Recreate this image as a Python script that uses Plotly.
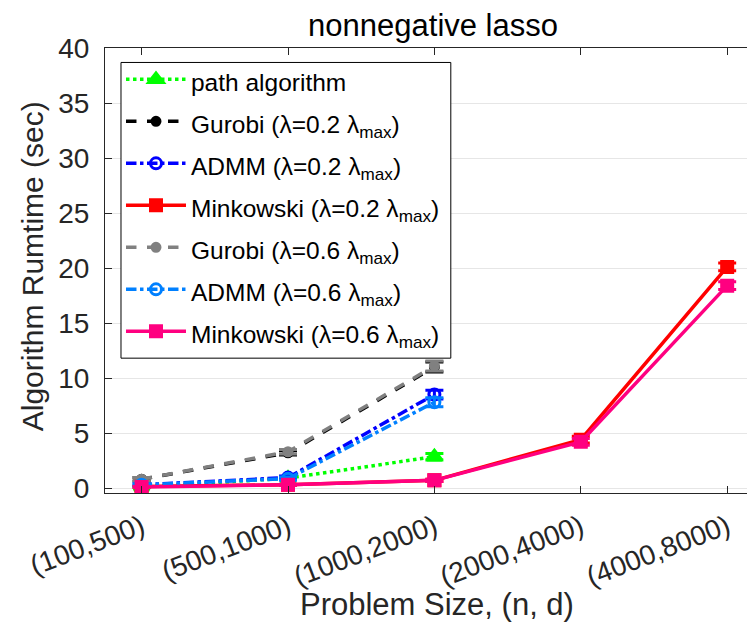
import plotly.graph_objects as go

categories = ["(100,500)", "(500,1000)", "(1000,2000)", "(2000,4000)", "(4000,8000)"]
x_pos = [1, 2, 3, 4, 5]

path_alg = [0.1, 0.9, 2.85]
path_err = [0.05, 0.1, 0.3]
gurobi_02 = [0.8, 3.2, 11.0]
gurobi_02_err = [0.15, 0.2, 0.45]
admm_02 = [0.3, 0.95, 8.5]
admm_02_err = [0.1, 0.15, 0.4]
mink_02 = [0.15, 0.3, 0.7, 4.4, 20.1]
mink_02_err = [0.05, 0.05, 0.1, 0.3, 0.35]
gurobi_06 = [0.8, 3.3, 11.1]
gurobi_06_err = [0.15, 0.2, 0.45]
admm_06 = [0.3, 0.85, 7.8]
admm_06_err = [0.1, 0.15, 0.4]
mink_06 = [0.1, 0.3, 0.7, 4.2, 18.4]
mink_06_err = [0.05, 0.05, 0.1, 0.3, 0.35]

LAM = "\u03bb"
def wrap(t):
    return f"<span style='font-size:24.5px'>{t}</span>"
def lbl(name, v):
    return wrap(f"{name} ({LAM}=0.{v} {LAM}<sub>max</sub>)")

series = [
    dict(name=wrap("path algorithm"), y=path_alg, err=path_err, color="#00FF00", dash="dot",
         symbol="triangle-up", msize=13),
    dict(name=lbl("Gurobi", 2), y=gurobi_02, err=gurobi_02_err, color="#000000", dash="dash",
         symbol="circle", msize=8),
    dict(name=lbl("ADMM", 2), y=admm_02, err=admm_02_err, color="#0000FF", dash="dashdot",
         symbol="circle-open", msize=11),
    dict(name=lbl("Minkowski", 2), y=mink_02, err=mink_02_err, color="#FF0000", dash="solid",
         symbol="square", msize=11),
    dict(name=lbl("Gurobi", 6), y=gurobi_06, err=gurobi_06_err, color="#808080", dash="dash",
         symbol="circle", msize=8),
    dict(name=lbl("ADMM", 6), y=admm_06, err=admm_06_err, color="#0080FF", dash="dashdot",
         symbol="circle-open", msize=11),
    dict(name=lbl("Minkowski", 6), y=mink_06, err=mink_06_err, color="#FF0080", dash="solid",
         symbol="square", msize=11),
]

fig = go.Figure()
for s in series:
    n = len(s["y"])
    fig.add_trace(go.Scatter(
        x=x_pos[:n], y=s["y"], name=s["name"], mode="lines+markers",
        line=dict(color=s["color"], width=3.5, dash=s["dash"]),
        marker=dict(symbol=s["symbol"], size=s["msize"], color=s["color"],
                    line=dict(color=s["color"], width=3)),
        error_y=dict(type="data", array=s["err"], visible=True, color=s["color"],
                     thickness=3, width=9),
    ))

font_family = "Liberation Sans, Arial, sans-serif"
fig.update_layout(
    width=747, height=628,
    margin=dict(l=97, r=0, t=39.5, b=143, autoexpand=False),
    paper_bgcolor="white", plot_bgcolor="white",
    font=dict(family=font_family, color="#262626", size=28),
    title=dict(text="nonnegative lasso", x=0.569, xanchor="center", y=0.973, yanchor="middle",
               font=dict(size=31, color="#000000")),
    xaxis=dict(range=[0.75, 5.19], tickvals=x_pos, ticktext=categories, tickangle=-21,
               automargin=False, ticklabelstandoff=6,
               showgrid=False, zeroline=False, showline=True, linecolor="#262626", linewidth=1,
               mirror="ticks", ticks="inside", ticklen=7, tickcolor="#262626",
               tickfont=dict(size=28)),
    yaxis=dict(range=[-0.45, 40], tickvals=[0, 5, 10, 15, 20, 25, 30, 35, 40],
               automargin=False, ticklabelstandoff=9,
               showgrid=True, gridcolor="#e6e6e6", gridwidth=1.2, zeroline=False,
               showline=True, linecolor="#262626", linewidth=1, mirror=False,
               ticks="inside", ticklen=7, tickcolor="#262626", tickfont=dict(size=28)),
    legend=dict(x=0.0246, y=0.988, xanchor="left", yanchor="top",
                borderwidth=0, bgcolor="rgba(0,0,0,0)",
                font=dict(size=30, color="#000000"), tracegroupgap=0, itemwidth=60),
    shapes=[
        dict(type="rect", xref="paper", yref="paper", x0=0.0246, x1=0.532, y0=0.303, y1=0.9675,
             line=dict(color="#000000", width=1), fillcolor="white", layer="above"),
    ],
    annotations=[
        dict(text="Problem Size, (n, d)", xref="paper", yref="paper", x=0.511, y=-0.251,
             xanchor="center", yanchor="middle", showarrow=False,
             font=dict(size=31, color="#262626")),
        dict(text="Algorithm Rumtime (sec)", xref="paper", yref="paper", x=-0.1123, y=0.5095,
             xanchor="center", yanchor="middle", showarrow=False, textangle=-90,
             font=dict(size=30, color="#262626")),
    ],
    showlegend=True,
)

fig.write_html("out.html")
